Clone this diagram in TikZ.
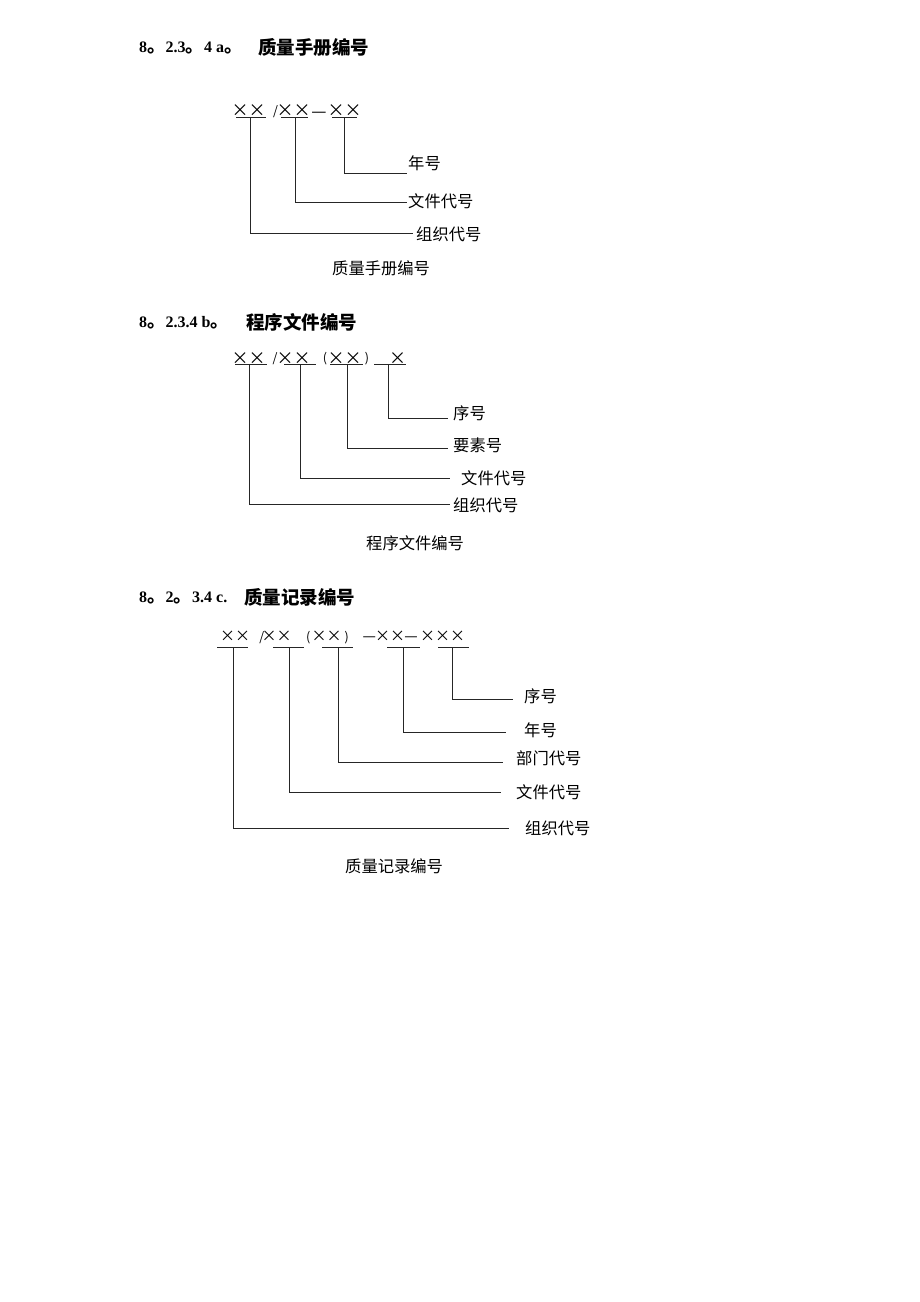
\documentclass[tikz,border=0pt]{standalone}
\usepackage{fontspec}
\setmainfont{Liberation Serif}
\newfontfamily\cjk{Noto Sans CJK SC}
\newcommand\hc[1]{{\cjk\fontsize{18.5}{20}\selectfont\bfseries #1}}
\newcommand\xm{\makebox[9pt]{×}}
\tikzset{
  hdl/.style={anchor=base west, inner sep=0pt, font=\fontsize{16}{18}\selectfont\bfseries},
  hdc/.style={anchor=base west, inner sep=0pt, font=\cjk\fontsize{18.5}{20}\selectfont\bfseries},
  lbl/.style={anchor=base west, inner sep=0pt, font=\cjk\fontsize{16.3}{18}\selectfont},
  symA/.style={anchor=base, inner sep=0pt, font=\cjk\fontsize{17}{18}\selectfont},
  symC/.style={anchor=base, inner sep=0pt, font=\cjk\fontsize{15}{18}\selectfont},
  small/.style={anchor=base, inner sep=0pt, font=\cjk\fontsize{12.5}{14}\selectfont},
  ln/.style={line width=1pt, black!85},
}
\begin{document}
\begin{tikzpicture}[x=1pt,y=-1pt]
\path[use as bounding box, fill=white] (0,0) rectangle (920,1302);

% ================= Section a =================
\node[hdl] (ha) at (139,52) {8\hc{。}2.3\hc{。}4 a\hc{。}};
\node[hdc] (hat) at (258,54.5) {质量手册编号};

\foreach \i/\x in {1/240,2/257,3/285,4/302,5/336,6/353}{
  \node[symA] (a-x\i) at (\x,116.8) {\xm};
}
\node[small] (a-sl) at (275.5,115.5) {/};
\node[symA] (a-da) at (319,117.3) {—};

\foreach \n/\l/\r/\m/\ex/\ey in {1/236/266/250/413/233, 2/281/308/295/407/202, 3/332/357/344/407/173}{
  \coordinate (a-u\n l) at (\l,117);
  \coordinate (a-u\n r) at (\r,117);
  \coordinate (a-u\n) at (\m,117);
  \coordinate (a-e\n) at (\ex,\ey);
  \draw[ln] (a-u\n l) -- (a-u\n r);
  \draw[ln] (a-u\n) |- (a-e\n);
}
\node[lbl] (a-l3) at (408,169.3) {年号};
\node[lbl] (a-l2) at (408,207.3) {文件代号};
\node[lbl] (a-l1) at (416,240.3) {组织代号};
\node[lbl] (a-cap) at (332,274.3) {质量手册编号};

% ================= Section b =================
\node[hdl] (hb) at (139,327) {8\hc{。}2.3.4 b\hc{。}};
\node[hdc] (hbt) at (246,329.5) {程序文件编号};

\foreach \i/\x in {1/240,2/257,3/285,4/302,5/336,6/353,7/397.5}{
  \node[symA] (b-x\i) at (\x,364) {\xm};
}
\node[small] (b-sl) at (275,362.5) {/};
\node[small] (b-po) at (325,362) {(};
\node[small] (b-pc) at (367,362) {)};

\foreach \n/\l/\r/\m/\ex/\ey in {1/235/267/249/450/504, 2/284/316/300/450/478, 3/330/363/347/448/448, 4/374/406/388/448/418}{
  \coordinate (b-u\n l) at (\l,364);
  \coordinate (b-u\n r) at (\r,364);
  \coordinate (b-u\n) at (\m,364);
  \coordinate (b-e\n) at (\ex,\ey);
  \draw[ln] (b-u\n l) -- (b-u\n r);
  \draw[ln] (b-u\n) |- (b-e\n);
}
\node[lbl] (b-l4) at (453,419.3) {序号};
\node[lbl] (b-l3) at (453,451.3) {要素号};
\node[lbl] (b-l2) at (461,484.3) {文件代号};
\node[lbl] (b-l1) at (453,511.3) {组织代号};
\node[lbl] (b-cap) at (366,549.3) {程序文件编号};

% ================= Section c =================
\node[hdl] (hc) at (139,602) {8\hc{。}2\hc{。}3.4 c.};
\node[hdc] (hct) at (244,604.5) {质量记录编号};

\foreach \i/\x in {1/227.5,2/242.5,3/269.2,4/284.2,5/319.2,6/334.2,7/382.5,8/397.5,9/427.5,10/442.5,11/457.5}{
  \node[symC] (c-x\i) at (\x,641.8) {\xm};
}
\node[small] (c-sl) at (261.7,641) {/};
\node[small] (c-po) at (308.3,641) {(};
\node[small] (c-pc) at (346.7,641) {)};
\node[symC] (c-d1) at (369.3,641.7) {—};
\node[symC] (c-d2) at (411,641.7) {—};

\foreach \n/\l/\r/\m/\ex/\ey in {1/217/248/233/509/828, 2/273/304/289/501/792, 3/322/353/338/503/762, 4/387/420/403/506/732, 5/438/469/452/513/699}{
  \coordinate (c-u\n l) at (\l,647);
  \coordinate (c-u\n r) at (\r,647);
  \coordinate (c-u\n) at (\m,647);
  \coordinate (c-e\n) at (\ex,\ey);
  \draw[ln] (c-u\n l) -- (c-u\n r);
  \draw[ln] (c-u\n) |- (c-e\n);
}
\node[lbl] (c-l5) at (524,702.3) {序号};
\node[lbl] (c-l4) at (524,736.3) {年号};
\node[lbl] (c-l3) at (516,764.3) {部门代号};
\node[lbl] (c-l2) at (516,798.3) {文件代号};
\node[lbl] (c-l1) at (525,834.3) {组织代号};
\node[lbl] (c-cap) at (345,872.3) {质量记录编号};
\end{tikzpicture}
\end{document}
